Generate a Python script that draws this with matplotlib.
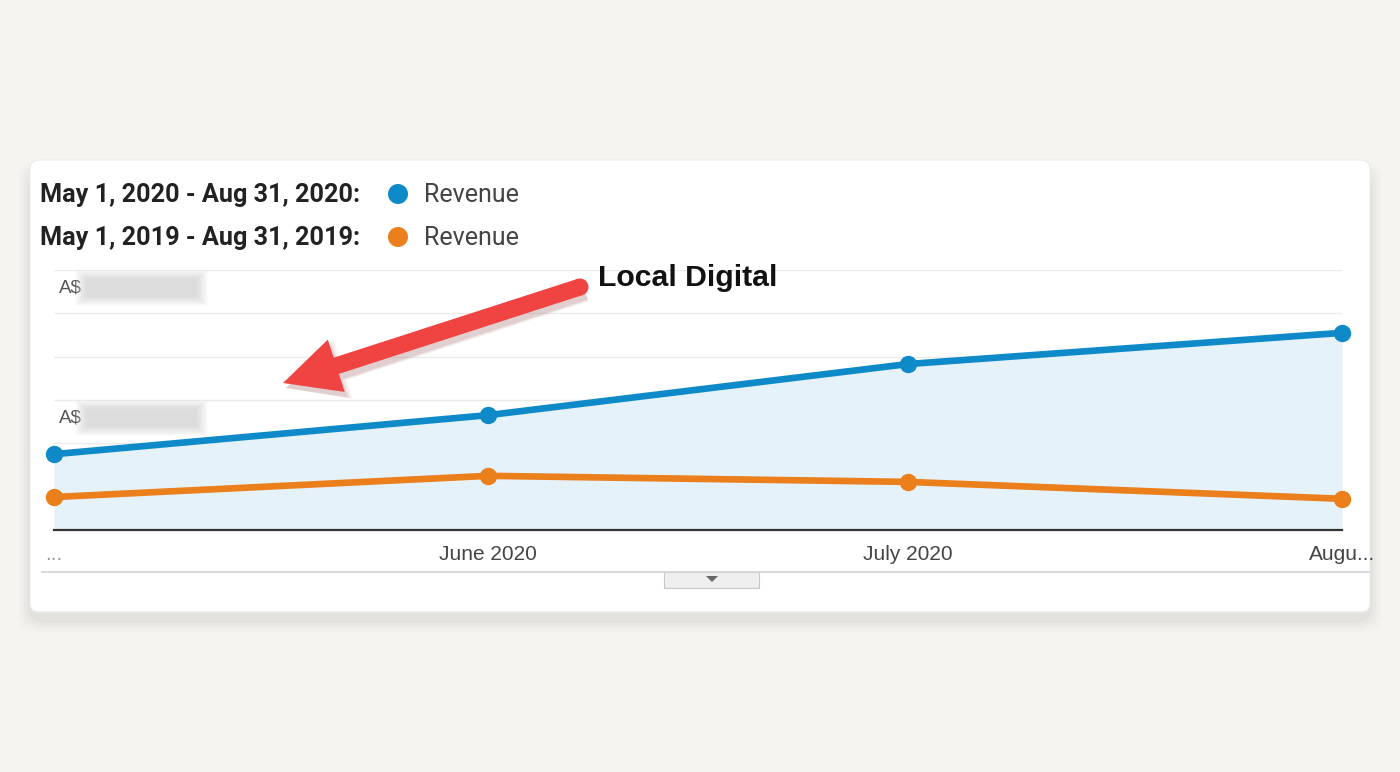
import matplotlib
matplotlib.use("Agg")
import matplotlib.pyplot as plt
from matplotlib.patches import FancyBboxPatch, Rectangle, Polygon, Circle
import matplotlib.transforms as mtransforms
import matplotlib.dates as mdates
from datetime import date

# ---------------- data ----------------
months = [date(2020, 5, 1), date(2020, 6, 1), date(2020, 7, 1), date(2020, 8, 1)]
tick_labels = ["...", "June 2020", "July 2020", "Augu..."]
revenue_2020 = [1.75, 2.65, 3.83, 4.55]   # values hidden in source (relative units)
revenue_2019 = [0.76, 1.25, 1.11, 0.72]
grid_values = [0, 1, 2, 3, 4, 5, 6]
labelled_values = [3, 6]
legend_periods = ["May 1, 2020 - Aug 31, 2020:", "May 1, 2019 - Aug 31, 2019:"]
legend_metric = "Revenue"
annotation = "Local Digital"

BLUE = "#0f8ac9"
ORANGE = "#ea7f1c"
FILL = "#e4f1f9"
RED = "#f04442"

W, H = 1400, 772
fig = plt.figure(figsize=(W / 100, H / 100), dpi=100)
fig.patch.set_facecolor("#f5f4f0")

# background axes in pixel coordinates
bg = fig.add_axes([0, 0, 1, 1])
bg.set_xlim(0, W)
bg.set_ylim(H, 0)
bg.axis("off")

# card shadow (soft, mostly below)
for i, a in enumerate([0.012, 0.015, 0.02, 0.025]):
    pad = 12 - i * 3
    bg.add_patch(FancyBboxPatch((30 - pad, 160 - pad + 14), 1340 + 2 * pad, 452 + 2 * pad - 6,
                                boxstyle="round,pad=0,rounding_size=18", fc="#000000", ec="none", alpha=a))
# card
bg.add_patch(FancyBboxPatch((30, 160), 1340, 452, boxstyle="round,pad=0,rounding_size=9",
                            fc="white", ec="#ececec", lw=0.8))

# legend
for i, (period, col) in enumerate(zip(legend_periods, [BLUE, ORANGE])):
    y = 195 + i * 43
    bg.text(40, y, period, fontsize=18.2, fontweight="bold", family="Roboto",
            color="#222222", va="center", ha="left")
    bg.add_patch(Circle((398, y - 1), 10, fc=col, ec="none"))
    bg.text(424, y, legend_metric, fontsize=18, family="Roboto",
            color="#444444", va="center", ha="left")

# separator and expand button
bg.plot([42, 1370], [572, 572], color="#d4d4d4", lw=1.2)
bg.add_patch(Rectangle((664, 572), 95, 16, fc="#efefef", ec="#c8c8c8", lw=0.8))
bg.add_patch(Polygon([[706, 576], [718, 576], [712, 582]], closed=True, fc="#666666", ec="none"))

# main chart axes
x0, x1, ytop, ybot = 54, 1342, 270, 530
ax = fig.add_axes([x0 / W, 1 - ybot / H, (x1 - x0) / W, (ybot - ytop) / H])
ax.set_facecolor("none")
xs = mdates.date2num(months)
ax.set_xlim(xs[0], xs[-1])
ax.set_ylim(grid_values[0], grid_values[-1])
for g in grid_values[1:]:
    ax.axhline(g, color="#ebebeb", lw=1.0, zorder=0)
ax.fill_between(xs, revenue_2020, 0, color=FILL, alpha=0.9, zorder=1, lw=0)
ax.plot(xs, revenue_2019, color=ORANGE, lw=4.8, marker="o", ms=11.5, zorder=3, clip_on=False,
        solid_capstyle="round")
ax.plot(xs, revenue_2020, color=BLUE, lw=4.8, marker="o", ms=11.5, zorder=4, clip_on=False,
        solid_capstyle="round")
for s in ["top", "right", "left"]:
    ax.spines[s].set_visible(False)
ax.spines["bottom"].set_color("#333333")
ax.spines["bottom"].set_linewidth(1.6)
ax.set_yticks([])
ax.set_xticks(xs)
ax.set_xticklabels(tick_labels, fontsize=15, color="#444444", family="Liberation Sans")
ax.tick_params(axis="x", length=0, pad=11)
lbls = ax.get_xticklabels()
lbls[-1].set_horizontalalignment("center")
lbls[0].set_color("#999999")

# y labels (values blurred in source): "A$" + blurred box
trans = mtransforms.blended_transform_factory(ax.transAxes, ax.transData)
for v in labelled_values:
    ax.text(0.004, v - 0.42, "A$", transform=trans, fontsize=13.5, color="#555555",
            family="Liberation Sans", va="center", ha="left", zorder=5)
    for k, a in enumerate([0.18, 0.22, 0.28, 0.35, 0.45]):
        grow = (4 - k) * 0.002
        ax.add_patch(FancyBboxPatch((0.025 - grow, v - 0.62 - (4 - k) * 0.05),
                                    0.086 + 2 * grow, 0.42 + (4 - k) * 0.1,
                                    boxstyle="round,pad=0,rounding_size=0.004",
                                    transform=trans, fc="#d6d6d6", ec="none", alpha=a, zorder=5,
                                    clip_on=False))

# overlay axes for the annotation (above gridlines)
ov = fig.add_axes([0, 0, 1, 1])
ov.set_xlim(0, W)
ov.set_ylim(H, 0)
ov.axis("off")
ov.patch.set_alpha(0)
for k, a in enumerate([0.06, 0.08, 0.1]):
    ov.arrow(582, 286, 283 - 582, 383 - 286, width=22 - 2 * k, head_width=62 - 3 * k,
             head_length=60 - 2 * k, length_includes_head=True, fc="#7a3030", ec="none",
             alpha=a, zorder=9, transform=ov.transData + mtransforms.Affine2D().translate(3, -5))
ov.arrow(580, 287, 283 - 580, 383 - 287, width=17, head_width=55, head_length=56,
         length_includes_head=True, fc=RED, ec="none", zorder=10)
ov.add_patch(Circle((580, 287), 8.5, fc=RED, ec="none", zorder=10))
ov.text(598, 278, annotation, fontsize=21.8, fontweight="bold", family="Liberation Sans",
        color="#111111", va="center", ha="left", zorder=10)

fig.savefig("out.png", dpi=100, facecolor=fig.get_facecolor())
